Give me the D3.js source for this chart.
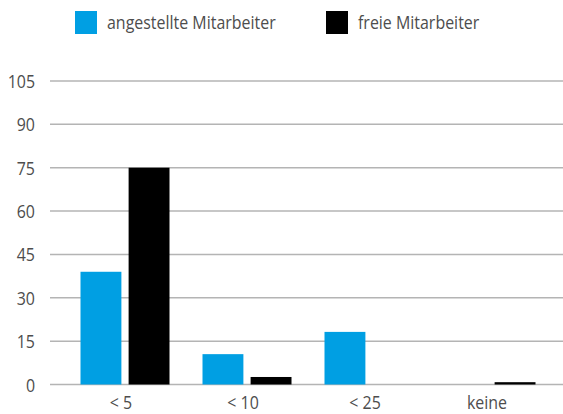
<!DOCTYPE html>
<html>
<head>
<meta charset="utf-8">
<script src="https://cdn.jsdelivr.net/npm/d3@7"></script>
<style>
  body { margin: 0; background: #fff; }
  text { font-family: "Open Sans", "Noto Sans", sans-serif; fill: #4d4d4d; font-size: 19px; }
</style>
</head>
<body>
<div id="chart"></div>
<script>
const categories = ["< 5", "< 10", "< 25", "keine"];
const angestellte = [39, 10.5, 18.2, 0];
const freie = [75, 2.6, 0, 0.8];
const seriesNames = ["angestellte Mitarbeiter", "freie Mitarbeiter"];
const seriesColors = ["#009fe3", "#000000"];
const yTicks = [0, 15, 30, 45, 60, 75, 90, 105];

const width = 563, height = 414;
const squeeze = 0.84; // the original font is a condensed one

function place(px, py) {
    return "translate(" + px + "," + py + ") scale(" + squeeze + ",1)";
}

const svg = d3.select("#chart").append("svg")
    .attr("width", width)
    .attr("height", height);

let x = d3.scaleBand()
    .domain(categories)
    .range([64, 552])
    .paddingInner(0)
    .paddingOuter(0);

let xs = d3.scaleBand()
    .domain(seriesNames)
    .range([16.5, x.bandwidth() - 16.5])
    .paddingInner(0.15);

let y = d3.scaleLinear()
    .domain([0, 105])
    .range([384.5, 81]);

// gridlines
svg.append("g")
    .selectAll("line")
    .data(yTicks)
    .join("line")
    .attr("x1", 50)
    .attr("x2", 563)
    .attr("y1", d => y(d))
    .attr("y2", d => y(d))
    .style("stroke", "#b4b4b4")
    .style("stroke-width", 1.5);

// y labels
svg.append("g")
    .selectAll("text")
    .data(yTicks)
    .join("text")
    .attr("transform", d => place(35, y(d) + 7))
    .attr("text-anchor", "end")
    .text(d => d);

// bars
let rows = categories.map((c, i) => ({ cat: c, vals: [angestellte[i], freie[i]] }));

let groups = svg.append("g")
    .selectAll("g")
    .data(rows)
    .join("g")
    .attr("transform", d => "translate(" + x(d.cat) + ",0)");

groups.selectAll("rect")
    .data(d => d.vals.map((v, j) => ({ name: seriesNames[j], v: v, color: seriesColors[j] })))
    .join("rect")
    .attr("x", d => xs(d.name))
    .attr("width", xs.bandwidth())
    .attr("y", d => y(d.v))
    .attr("height", d => y(0) - y(d.v))
    .attr("fill", d => d.color);

// x labels
svg.append("g")
    .selectAll("text")
    .data(categories)
    .join("text")
    .attr("transform", d => place(x(d) + x.bandwidth() / 2 - 4, 409))
    .attr("text-anchor", "middle")
    .text(d => d);

// legend
let legendX = [75, 326];
let legend = svg.append("g")
    .selectAll("g")
    .data(seriesNames)
    .join("g")
    .attr("transform", (d, i) => "translate(" + legendX[i] + ",11)");

legend.append("rect")
    .attr("width", 22)
    .attr("height", 23)
    .attr("fill", (d, i) => seriesColors[i]);

legend.append("text")
    .attr("transform", place(32, 18))
    .text(d => d);
</script>
</body>
</html>
